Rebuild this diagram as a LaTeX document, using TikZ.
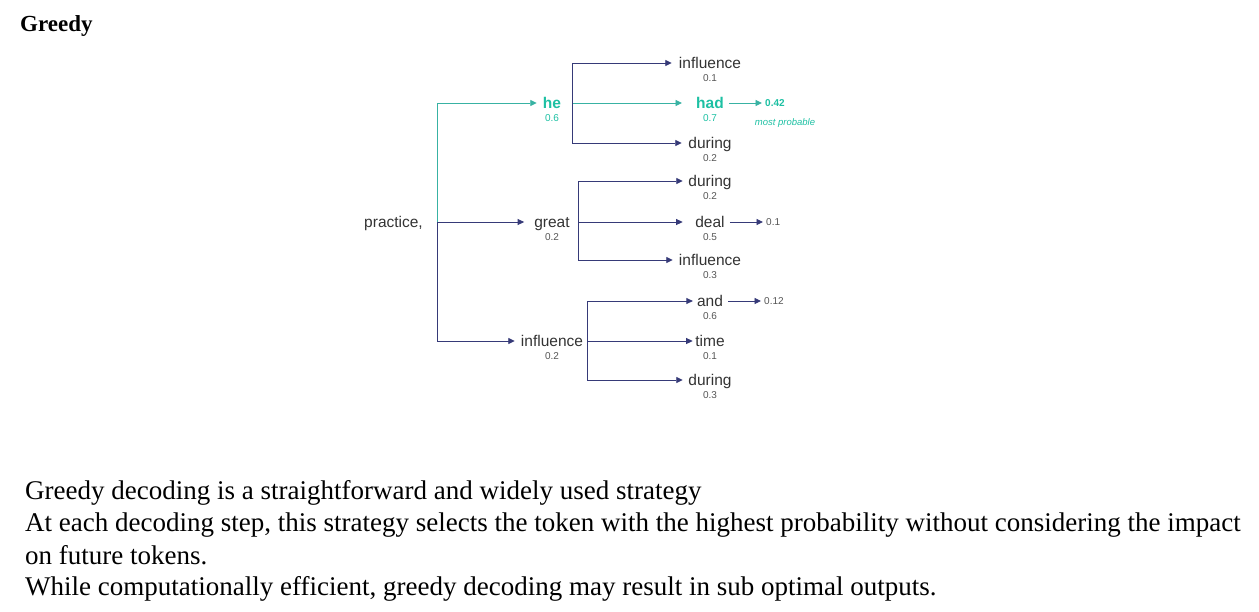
\documentclass[tikz,border=0pt]{standalone}
\usepackage{fontspec}
\setmainfont{Liberation Serif}
\newfontfamily\arialf{Liberation Sans}
\usetikzlibrary{arrows.meta}
\definecolor{navy}{HTML}{363A78}
\definecolor{tealtxt}{HTML}{1DC0A3}
\definecolor{tealln}{HTML}{38B2A3}
\definecolor{wordtxt}{HTML}{333333}
\definecolor{probtxt}{HTML}{555555}
\tikzset{
  x=1pt, y=-1pt,
  word/.style={font=\arialf\fontsize{15.5}{18}\selectfont, text=wordtxt, inner xsep=5pt, inner ysep=0pt, text height=11.5pt, text depth=1.5pt},
  hiword/.style={word, text=tealtxt, font=\arialf\bfseries\fontsize{15.5}{18}\selectfont},
  prob/.style={font=\arialf\fontsize{10}{12}\selectfont, text=probtxt, anchor=base, inner sep=0pt},
  hiprob/.style={prob, text=tealtxt},
  endprob/.style={font=\arialf\fontsize{10}{12}\selectfont, text=probtxt, anchor=west, inner xsep=3pt, inner ysep=0pt, text height=7.2pt, text depth=0pt},
  conn/.style={draw=navy, line width=0.9pt, -{Triangle[length=6.5pt,width=6pt]}},
  hiconn/.style={conn, draw=tealln, -{Triangle[length=6.5pt,width=6pt,fill=tealln]}},
  bodytext/.style={anchor=base west, inner sep=0pt, font=\fontsize{27}{32}\selectfont},
}
\begin{document}
\begin{tikzpicture}
\useasboundingbox (0,0) rectangle (1259,611);
% title
\node[anchor=base west, inner sep=0pt, font=\bfseries\fontsize{23}{28}\selectfont] (title) at (20,31) {Greedy};
% root
\node[word, anchor=east] (practice) at (428,222) {practice,};
\coordinate (jr) at (437,222);
% level 1
\node[hiword] (he) at (552,103) {he};
\node[hiprob] (phe) at (552,121) {0.6};
\node[word] (great) at (552,222) {great};
\node[prob] (pgreat) at (552,240) {0.2};
\node[word] (infl) at (552,341) {influence};
\node[prob] (pinfl) at (552,359) {0.2};
\draw[hiconn, shorten >=1pt] (jr) |- (he);
\draw[conn, shorten >=5pt] (jr) -- (great);
\draw[conn, shorten >=1pt] (jr) |- (infl);
% he group
\coordinate (jhe) at (572,103);
\node[word] (inflA) at (710,63) {influence};
\node[prob] (pinflA) at (710,81) {0.1};
\node[hiword] (had) at (710,103) {had};
\node[hiprob] (phad) at (710,121) {0.7};
\node[word] (durA) at (710,143) {during};
\node[prob] (pdurA) at (710,161) {0.2};
\draw[conn, shorten >=2pt] (jhe) |- (inflA);
\draw[hiconn, shorten >=9pt] (jhe) -- (had);
\draw[conn, shorten >=1.5pt] (jhe) |- (durA);
\node[endprob, text=tealtxt, font=\arialf\bfseries\fontsize{10}{12}\selectfont] (r1) at (762,103) {0.42};
\draw[hiconn] (had) -- (r1);
\node[font=\arialf\itshape\fontsize{9.5}{11}\selectfont, text=tealtxt, inner sep=0pt] (mp) at (785,123) {most probable};
% great group
\coordinate (jgr) at (578,222);
\node[word] (durB) at (710,181) {during};
\node[prob] (pdurB) at (710,199) {0.2};
\node[word] (deal) at (710,222) {deal};
\node[prob] (pdeal) at (710,240) {0.5};
\node[word] (inflB) at (710,260) {influence};
\node[prob] (pinflB) at (710,278) {0.3};
\draw[conn, shorten >=0.5pt] (jgr) |- (durB);
\draw[conn, shorten >=7.5pt] (jgr) -- (deal);
\draw[conn, shorten >=1pt] (jgr) |- (inflB);
\node[endprob] (r2) at (763,222) {0.1};
\draw[conn] (deal) -- (r2);
% influence group
\coordinate (jin) at (587,341);
\node[word] (and) at (710,301) {and};
\node[prob] (pand) at (710,319) {0.6};
\node[word] (time) at (710,341) {time};
\node[prob] (ptime) at (710,359) {0.1};
\node[word] (durC) at (710,380) {during};
\node[prob] (pdurC) at (710,398) {0.3};
\draw[conn, shorten >=-1pt] (jin) |- (and);
\draw[conn, shorten >=-2.5pt] (jin) -- (time);
\draw[conn, shorten >=0.5pt] (jin) |- (durC);
\node[endprob] (r3) at (761,301) {0.12};
\draw[conn] (and) -- (r3);
% body text
\node[bodytext] (l1) at (25,499) {Greedy decoding is a straightforward and widely used strategy};
\node[bodytext] (l2) at (25,531) {At each decoding step, this strategy selects the token with the highest probability without considering the impact};
\node[bodytext] (l3) at (25,564) {on future tokens.};
\node[bodytext] (l4) at (25,595) {While computationally efficient, greedy decoding may result in sub optimal outputs.};
\end{tikzpicture}
\end{document}
